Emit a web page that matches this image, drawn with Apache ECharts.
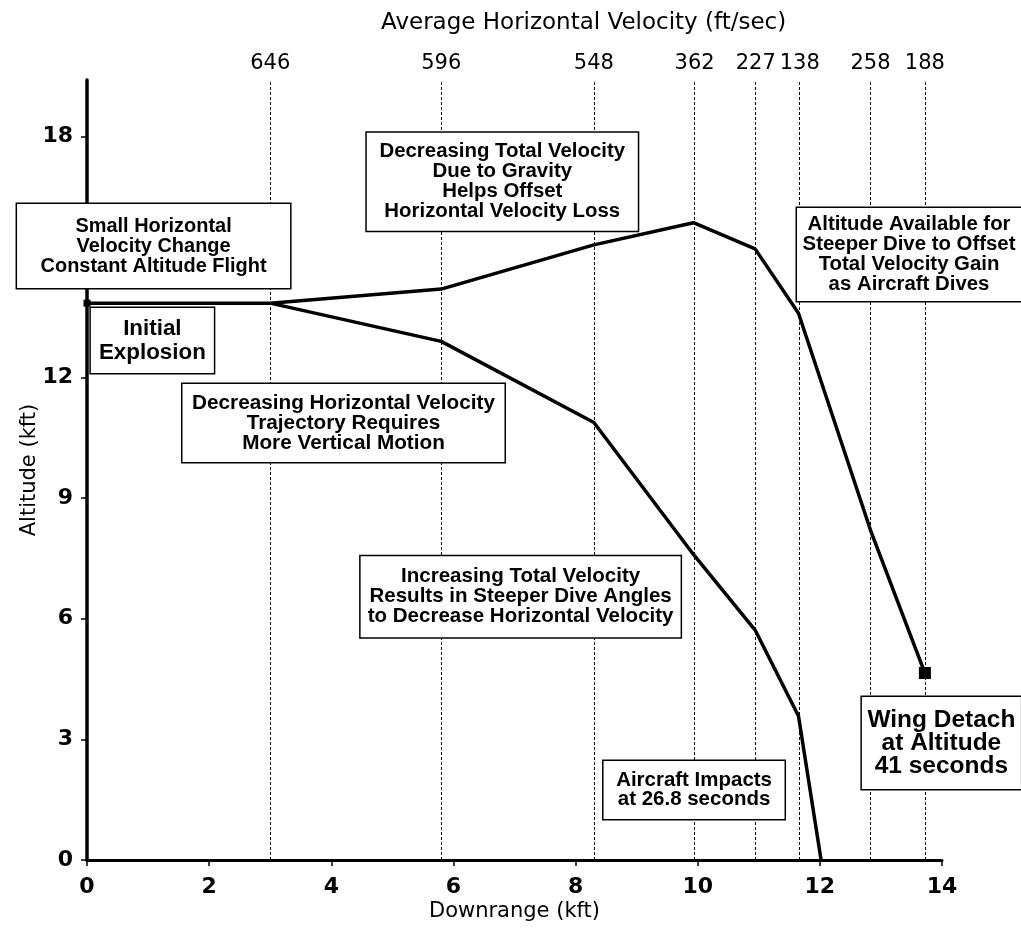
<!DOCTYPE html>
<html><head><meta charset="utf-8">
<script src="https://cdn.jsdelivr.net/npm/echarts@6/dist/echarts.min.js"></script>
<style>html,body{margin:0;padding:0;background:#fff}#c{width:1021px;height:932px}</style>
</head><body><div id="c"></div>
<script>
// ---- data ----
const yTicks = [0, 3, 6, 9, 12, 15, 18];
const xTicks = [0, 2, 4, 6, 8, 10, 12, 14];
const velPos = [3.0, 5.8, 8.3, 9.95, 10.95, 11.67, 12.83, 13.72];
const velLabels = ['646', '596', '548', '362', '227', '138', '258', '188'];
const wingX = [0, 3.0, 5.8, 8.3, 9.93, 10.94, 11.65, 12.83, 13.72];
const wingY = [13.85, 13.85, 14.2, 15.3, 15.85, 15.2, 13.6, 8.2, 4.65];
const aircraftX = [3.0, 5.8, 8.3, 9.93, 10.94, 11.65, 12.02];
const aircraftY = [13.85, 12.9, 10.88, 7.6, 5.72, 3.58, 0];
const noteTexts = [
  'Small Horizontal\nVelocity Change\nConstant Altitude Flight',
  'Initial\nExplosion',
  'Decreasing Horizontal Velocity\nTrajectory Requires\nMore Vertical Motion',
  'Decreasing Total Velocity\nDue to Gravity\nHelps Offset\nHorizontal Velocity Loss',
  'Altitude Available for\nSteeper Dive to Offset\nTotal Velocity Gain\nas Aircraft Dives',
  'Increasing Total Velocity\nResults in Steeper Dive Angles\nto Decrease Horizontal Velocity',
  'Aircraft Impacts\nat 26.8 seconds',
  'Wing Detach\nat Altitude\n41 seconds'
];
const noteX = [1.09, 1.07, 4.2, 6.8, 13.46, 7.1, 9.94, 13.99];
const noteY = [15.27, 12.92, 10.87, 16.87, 15.06, 6.55, 1.74, 2.91];

// ---- layout / style (not data) ----
const noteBox = [
  {w: 273, h: 84, tw: 226, lh: 20},
  {w: 123, h: 65, tw: 107, lh: 24},
  {w: 322, h: 78, tw: 303, lh: 20},
  {w: 271, h: 98, tw: 246, lh: 20},
  {w: 224, h: 93, tw: 213, lh: 20},
  {w: 320, h: 81, tw: 306, lh: 20},
  {w: 181, h: 58, tw: 156, lh: 19},
  {w: 159, h: 92, tw: 148, lh: 23}
];
const TXT = 'DejaVu Sans';
const NOTE = 'Liberation Sans';
const mctx = document.createElement('canvas').getContext('2d');
mctx.font = 'bold 100px "Liberation Sans"';
function fitSize(text, target) {
  const w = Math.max.apply(null, text.split('\n').map(l => mctx.measureText(l).width));
  return 100 * target / w;
}

const chart = echarts.init(document.getElementById('c'), null, {renderer: 'canvas'});
const last = wingX.length - 1;
const option = {
  backgroundColor: '#fff',
  animation: false,
  title: {
    text: 'Average Horizontal Velocity (ft/sec)',
    left: 376, top: 7,
    textStyle: {fontFamily: TXT, fontSize: 23, fontWeight: 'normal', color: '#000'}
  },
  grid: {left: 87, right: 79, top: 80, bottom: 72, containLabel: false},
  xAxis: {
    type: 'value', min: 0, max: 14, interval: 2,
    name: 'Downrange (kft)', nameLocation: 'middle', nameGap: 41, nameMoveOverlap: false,
    nameTextStyle: {fontFamily: TXT, fontSize: 21, color: '#000'},
    axisLine: {show: true, onZero: false, lineStyle: {color: '#000', width: 3}},
    axisTick: {show: true, length: 6, lineStyle: {color: '#000', width: 1.5}},
    axisLabel: {fontFamily: TXT, fontSize: 22, fontWeight: 'bold', color: '#000', margin: 16,
      customValues: xTicks},
    splitLine: {show: false}
  },
  yAxis: {
    type: 'value', min: 0, max: 19.4, interval: 3,
    name: 'Altitude (kft)', nameLocation: 'middle', nameGap: 47, nameRotate: 90, nameMoveOverlap: false,
    nameTextStyle: {fontFamily: TXT, fontSize: 21, color: '#000'},
    axisLine: {show: true, onZero: false, lineStyle: {color: '#000', width: 3.5}},
    axisTick: {show: true, length: 6, lineStyle: {color: '#000', width: 1.5}, customValues: yTicks},
    axisLabel: {fontFamily: TXT, fontSize: 22, fontWeight: 'bold', color: '#000', margin: 14,
      customValues: yTicks},
    splitLine: {show: false}
  },
  series: [
    {
      type: 'line', name: 'wing', z: 3,
      data: wingX.map((x, i) => [x, wingY[i]]),
      symbol: 'none',
      lineStyle: {color: '#000', width: 3.5, join: 'round'},
      markLine: {
        silent: true, symbol: 'none', z: 1,
        lineStyle: {color: '#000', width: 1, type: [3, 2]},
        label: {show: true, position: 'end', distance: 6, fontFamily: TXT, fontSize: 21, color: '#000'},
        data: velPos.map((v, i) => ({xAxis: v, label: {formatter: velLabels[i]}}))
      }
    },
    {
      type: 'line', name: 'aircraft', z: 3,
      data: aircraftX.map((x, i) => [x, aircraftY[i]]),
      symbol: 'none',
      lineStyle: {color: '#000', width: 3.5, join: 'round'}
    },
    {
      type: 'scatter', name: 'markers', z: 4,
      symbol: 'rect',
      data: [
        {value: [wingX[0], wingY[0]], symbolSize: 7},
        {value: [wingX[last], wingY[last]], symbolSize: 12}
      ],
      itemStyle: {color: '#000', opacity: 1}
    },
    {
      type: 'scatter', name: 'notes', z: 10, clip: false, silent: true,
      symbol: 'rect', symbolSize: 2, itemStyle: {color: 'rgba(255,255,255,0)', opacity: 1},
      data: noteTexts.map((t, i) => {
        const b = noteBox[i];
        const lines = t.split('\n').length;
        const padV = Math.max(0, (b.h - lines * b.lh) / 2);
        return {
          value: [noteX[i], noteY[i]],
          label: {
            show: true, position: 'inside', formatter: t,
            fontFamily: NOTE, fontWeight: 'bold', fontSize: fitSize(t, b.tw),
            lineHeight: b.lh, color: '#000', align: 'center', verticalAlign: 'middle',
            width: b.w, height: lines * b.lh, padding: [padV, 0, padV, 0],
            backgroundColor: '#fff', borderColor: '#000', borderWidth: 1.5, opacity: 1
          }
        };
      })
    }
  ]
};
chart.setOption(option);
</script>
</body></html>
